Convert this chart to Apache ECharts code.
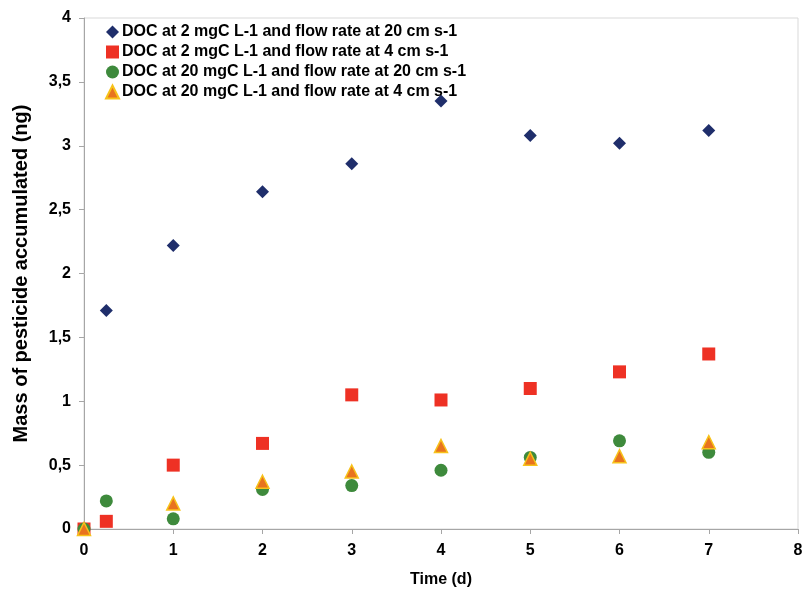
<!DOCTYPE html>
<html>
<head>
<meta charset="utf-8">
<script src="https://cdn.jsdelivr.net/npm/echarts@6/dist/echarts.min.js"></script>
<style>html,body{margin:0;padding:0;background:#fff}#c{width:803px;height:589px}</style>
</head>
<body>
<div id="c"></div>
<script>
var seriesNames = [
  'DOC at 2 mgC L-1 and flow rate at 20 cm s-1',
  'DOC at 2 mgC L-1 and flow rate at 4 cm s-1',
  'DOC at 20 mgC L-1 and flow rate at 20 cm s-1',
  'DOC at 20 mgC L-1 and flow rate at 4 cm s-1'
];
var timeDiamond = [0, 0.25, 1, 2, 3, 4, 5, 6, 7];
var massDiamond = [0, 1.71, 2.22, 2.64, 2.86, 3.35, 3.08, 3.02, 3.12];
var timeSquare = [0, 0.25, 1, 2, 3, 4, 5, 6, 7];
var massSquare = [0, 0.06, 0.50, 0.67, 1.05, 1.01, 1.10, 1.23, 1.37];
var timeCircle = [0, 0.25, 1, 2, 3, 4, 5, 6, 7];
var massCircle = [0, 0.22, 0.08, 0.31, 0.34, 0.46, 0.56, 0.69, 0.60];
var timeTriangle = [0, 1, 2, 3, 4, 5, 6, 7];
var massTriangle = [0, 0.20, 0.37, 0.45, 0.65, 0.55, 0.57, 0.68];
var xTicks = [0, 1, 2, 3, 4, 5, 6, 7, 8];
var yTicks = ['0', '0,5', '1', '1,5', '2', '2,5', '3', '3,5', '4'];

function pairs(xs, ys) { return xs.map(function (x, i) { return [x, ys[i]]; }); }

var FONT = 'Liberation Sans';
var chart = echarts.init(document.getElementById('c'), null, {renderer: 'canvas'});
chart.setOption({
  backgroundColor: '#fff',
  animation: false,
  grid: {left: 84, right: 5, top: 18, bottom: 60, show: true, borderColor: '#D9D9D9', borderWidth: 1,
    backgroundColor: 'transparent', containLabel: false, outerBoundsMode: 'none'},
  legend: {
    orient: 'vertical', left: 100, top: 19, itemGap: 4, itemWidth: 13, itemHeight: 13,
    textStyle: {fontFamily: FONT, fontWeight: 'bold', fontSize: 16, color: '#000', padding: [0, 0, 0, -2]},
    data: seriesNames
  },
  xAxis: {
    type: 'value', min: 0, max: 8, interval: 1,
    name: 'Time (d)', nameLocation: 'middle', nameGap: 43,
    nameTextStyle: {fontFamily: FONT, fontWeight: 'bold', fontSize: 16, color: '#000'},
    axisLine: {show: true, lineStyle: {color: '#A6A6A6', width: 1}},
    axisTick: {show: true, length: 5, lineStyle: {color: '#A6A6A6'}},
    axisLabel: {fontFamily: FONT, fontWeight: 'bold', fontSize: 16, color: '#000', margin: 14,
      formatter: function (v) { return String(xTicks[Math.round(v)]); }},
    splitLine: {show: false}
  },
  yAxis: {
    type: 'value', min: 0, max: 4, interval: 0.5,
    name: 'Mass of pesticide accumulated (ng)', nameLocation: 'middle', nameGap: 53,
    nameTextStyle: {fontFamily: FONT, fontWeight: 'bold', fontSize: 20, color: '#000'},
    axisLine: {show: true, lineStyle: {color: '#A6A6A6', width: 1}},
    axisTick: {show: true, length: 5, lineStyle: {color: '#A6A6A6'}},
    axisLabel: {fontFamily: FONT, fontWeight: 'bold', fontSize: 16, color: '#000', margin: 13,
      formatter: function (v) { return yTicks[Math.round(v * 2)]; }},
    splitLine: {show: false}
  },
  series: [
    {name: seriesNames[0], type: 'scatter', symbol: 'diamond', symbolSize: 13,
      itemStyle: {color: '#1F2E6B', opacity: 1}, data: pairs(timeDiamond, massDiamond)},
    {name: seriesNames[1], type: 'scatter', symbol: 'rect', symbolSize: 13,
      itemStyle: {color: '#EE3124', opacity: 1}, data: pairs(timeSquare, massSquare)},
    {name: seriesNames[2], type: 'scatter', symbol: 'circle', symbolSize: 13,
      itemStyle: {color: '#3E8A3C', opacity: 1}, data: pairs(timeCircle, massCircle)},
    {name: seriesNames[3], type: 'scatter', symbol: 'triangle', symbolSize: 13,
      itemStyle: {color: '#E8731F', borderColor: '#F7C21A', borderWidth: 1.5, opacity: 1}, data: pairs(timeTriangle, massTriangle)}
  ]
});
</script>
</body>
</html>
